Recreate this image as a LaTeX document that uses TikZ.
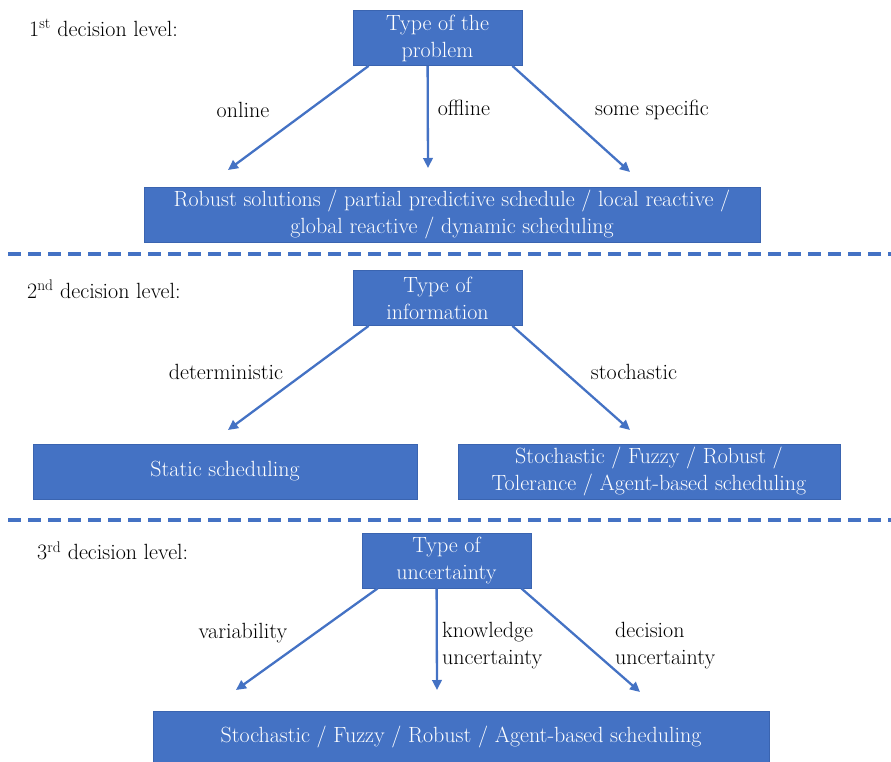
\documentclass[tikz,border=0pt]{standalone}
\usepackage{fontspec}
\usetikzlibrary{arrows.meta}
\definecolor{boxblue}{HTML}{4472C4}
\definecolor{boxedge}{HTML}{3A64B0}
\tikzset{
  txt/.style={font=\fontsize{22}{27}\selectfont},
  blockbox/.style={txt, draw=boxedge, line width=0.8pt, fill=boxblue, text=white,
    align=center, inner sep=0pt},
  flow/.style={draw=boxblue, line width=2.3pt, -{Triangle[length=10pt,width=9.5pt]}},
  lbl/.style={txt, inner sep=0pt},
  lvl/.style={txt, inner sep=0pt, anchor=west},
  sep/.style={draw=boxblue, line width=3.6pt, dash pattern=on 13pt off 7pt}
}
\begin{document}
\begin{tikzpicture}[x=1pt, y={(0pt,-1pt)}]
\useasboundingbox (0,0) rectangle (891,762);

% level 1
\node[lvl] (l1) at (29,28) {1\textsuperscript{st} decision level:};
\node[blockbox, minimum width=169pt, minimum height=55pt] (t1) at (437.5,38) {Type of the\\problem};
\node[blockbox, minimum width=616pt, minimum height=55pt] (r1) at (452,214.5) {Robust solutions / partial predictive schedule / local reactive /\\global reactive / dynamic scheduling};
\coordinate (e1a) at (228,170);
\coordinate (e1b) at (428,168);
\coordinate (e1c) at (630,172);
\draw[flow] ([xshift=16pt]t1.south west) -- (e1a);
\draw[flow] ([xshift=75pt]t1.south west) -- (e1b);
\draw[flow] ([xshift=-10pt]t1.south east) -- (e1c);
\node[lbl] (o1) at (243,110) {online};
\node[lbl] (o2) at (464,108) {offline};
\node[lbl] (o3) at (652,110) {some specific};

% separator
\coordinate (s1a) at (8,254);
\coordinate (s1b) at (891,254);
\draw[sep] (s1a) -- (s1b);

% level 2
\node[lvl] (l2) at (27,289) {2\textsuperscript{nd} decision level:};
\node[blockbox, minimum width=169pt, minimum height=55pt] (t2) at (437.5,298) {Type of\\information};
\node[blockbox, minimum width=384pt, minimum height=55pt] (r2a) at (225,471.5) {Static scheduling};
\node[blockbox, minimum width=382pt, minimum height=55pt] (r2b) at (649,471.5) {Stochastic / Fuzzy / Robust /\\Tolerance / Agent-based scheduling};
\coordinate (e2a) at (228,430);
\coordinate (e2b) at (630,430);
\draw[flow] ([xshift=16pt]t2.south west) -- (e2a);
\draw[flow] ([xshift=-10pt]t2.south east) -- (e2b);
\node[lbl] (d1) at (226,372) {deterministic};
\node[lbl] (d2) at (634,372) {stochastic};

% separator
\coordinate (s2a) at (8,520);
\coordinate (s2b) at (891,520);
\draw[sep] (s2a) -- (s2b);

% level 3
\node[lvl] (l3) at (37,551) {3\textsuperscript{rd} decision level:};
\node[blockbox, minimum width=169pt, minimum height=55pt] (t3) at (446.5,560.5) {Type of\\uncertainty};
\node[blockbox, minimum width=616pt, minimum height=52pt] (r3) at (461,737) {Stochastic / Fuzzy / Robust / Agent-based scheduling};
\coordinate (e3a) at (236,690);
\coordinate (e3b) at (437,690);
\coordinate (e3c) at (640,692);
\draw[flow] ([xshift=16pt]t3.south west) -- (e3a);
\draw[flow] ([xshift=75pt]t3.south west) -- (e3b);
\draw[flow] ([xshift=-10pt]t3.south east) -- (e3c);
\node[lbl] (v1) at (243,633) {variability};
\node[lbl, anchor=west, align=left] (v2) at (442,646) {knowledge\\uncertainty};
\node[lbl, anchor=west, align=left] (v3) at (615,646) {decision\\uncertainty};
\end{tikzpicture}
\end{document}
